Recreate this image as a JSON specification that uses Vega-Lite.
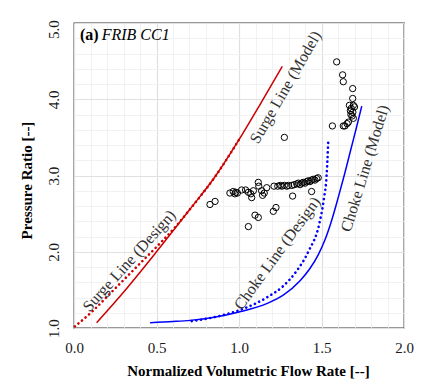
{
  "$schema": "https://vega.github.io/schema/vega-lite/v6.json",
  "width": 330,
  "height": 305,
  "autosize": {"type": "none"},
  "padding": {"left": 74, "top": 23, "right": 19, "bottom": 54},
  "background": "white",
  "config": {"view": {"stroke": "#333333", "strokeWidth": 1.3}, "font": "Liberation Serif"},
  "datasets": {
    "curves": [
      {"line": "Surge", "kind": "Model", "x": 0.137, "y": 1.07},
      {"line": "Surge", "kind": "Model", "x": 0.3, "y": 1.47},
      {"line": "Surge", "kind": "Model", "x": 0.5, "y": 2.0},
      {"line": "Surge", "kind": "Model", "x": 0.7, "y": 2.55},
      {"line": "Surge", "kind": "Model", "x": 0.86, "y": 3.0},
      {"line": "Surge", "kind": "Model", "x": 1.0, "y": 3.47},
      {"line": "Surge", "kind": "Model", "x": 1.13, "y": 3.94},
      {"line": "Surge", "kind": "Model", "x": 1.262, "y": 4.43},
      {"line": "Surge", "kind": "Design", "x": 0.005, "y": 1.02},
      {"line": "Surge", "kind": "Design", "x": 0.117, "y": 1.23},
      {"line": "Surge", "kind": "Design", "x": 0.218, "y": 1.45},
      {"line": "Surge", "kind": "Design", "x": 0.319, "y": 1.67},
      {"line": "Surge", "kind": "Design", "x": 0.42, "y": 1.89},
      {"line": "Surge", "kind": "Design", "x": 0.521, "y": 2.11},
      {"line": "Surge", "kind": "Design", "x": 0.62, "y": 2.34},
      {"line": "Surge", "kind": "Design", "x": 0.7, "y": 2.55},
      {"line": "Surge", "kind": "Design", "x": 0.86, "y": 3.0},
      {"line": "Surge", "kind": "Design", "x": 1.0, "y": 3.47},
      {"line": "Choke", "kind": "Model", "x": 0.461, "y": 1.07},
      {"line": "Choke", "kind": "Model", "x": 0.6, "y": 1.085},
      {"line": "Choke", "kind": "Model", "x": 0.703, "y": 1.1},
      {"line": "Choke", "kind": "Model", "x": 0.85, "y": 1.14},
      {"line": "Choke", "kind": "Model", "x": 1.0, "y": 1.21},
      {"line": "Choke", "kind": "Model", "x": 1.168, "y": 1.32},
      {"line": "Choke", "kind": "Model", "x": 1.268, "y": 1.43},
      {"line": "Choke", "kind": "Model", "x": 1.37, "y": 1.62},
      {"line": "Choke", "kind": "Model", "x": 1.43, "y": 1.78},
      {"line": "Choke", "kind": "Model", "x": 1.48, "y": 1.96},
      {"line": "Choke", "kind": "Model", "x": 1.52, "y": 2.15},
      {"line": "Choke", "kind": "Model", "x": 1.56, "y": 2.4},
      {"line": "Choke", "kind": "Model", "x": 1.6, "y": 2.7},
      {"line": "Choke", "kind": "Model", "x": 1.64, "y": 3.02},
      {"line": "Choke", "kind": "Model", "x": 1.68, "y": 3.36},
      {"line": "Choke", "kind": "Model", "x": 1.713, "y": 3.64},
      {"line": "Choke", "kind": "Model", "x": 1.744, "y": 3.91},
      {"line": "Choke", "kind": "Design", "x": 0.713, "y": 1.09},
      {"line": "Choke", "kind": "Design", "x": 0.905, "y": 1.17},
      {"line": "Choke", "kind": "Design", "x": 1.047, "y": 1.27},
      {"line": "Choke", "kind": "Design", "x": 1.168, "y": 1.4},
      {"line": "Choke", "kind": "Design", "x": 1.268, "y": 1.55},
      {"line": "Choke", "kind": "Design", "x": 1.35, "y": 1.75},
      {"line": "Choke", "kind": "Design", "x": 1.42, "y": 2.0},
      {"line": "Choke", "kind": "Design", "x": 1.49, "y": 2.4},
      {"line": "Choke", "kind": "Design", "x": 1.515, "y": 2.7},
      {"line": "Choke", "kind": "Design", "x": 1.531, "y": 3.0},
      {"line": "Choke", "kind": "Design", "x": 1.541, "y": 3.45}
    ],
    "tests": [
      {"x": 0.824, "y": 2.62}, {"x": 0.855, "y": 2.66}, {"x": 0.945, "y": 2.77}, {"x": 0.965, "y": 2.79},
      {"x": 0.975, "y": 2.76}, {"x": 0.98, "y": 2.78}, {"x": 0.99, "y": 2.77}, {"x": 1.016, "y": 2.81},
      {"x": 1.04, "y": 2.81}, {"x": 1.057, "y": 2.78}, {"x": 1.077, "y": 2.71}, {"x": 1.072, "y": 2.76},
      {"x": 1.087, "y": 2.8}, {"x": 1.117, "y": 2.91}, {"x": 1.12, "y": 2.86}, {"x": 1.137, "y": 2.8},
      {"x": 1.143, "y": 2.74}, {"x": 1.153, "y": 2.77}, {"x": 1.168, "y": 2.84}, {"x": 1.097, "y": 2.48},
      {"x": 1.117, "y": 2.45}, {"x": 1.057, "y": 2.33}, {"x": 1.208, "y": 2.53}, {"x": 1.224, "y": 2.58},
      {"x": 1.212, "y": 2.86}, {"x": 1.235, "y": 2.86}, {"x": 1.25, "y": 2.87}, {"x": 1.26, "y": 2.86},
      {"x": 1.275, "y": 2.87}, {"x": 1.29, "y": 2.86}, {"x": 1.3, "y": 2.87}, {"x": 1.325, "y": 2.73},
      {"x": 1.32, "y": 2.87}, {"x": 1.335, "y": 2.88}, {"x": 1.35, "y": 2.89}, {"x": 1.36, "y": 2.9},
      {"x": 1.37, "y": 2.88}, {"x": 1.38, "y": 2.9}, {"x": 1.39, "y": 2.91}, {"x": 1.4, "y": 2.9},
      {"x": 1.41, "y": 2.92}, {"x": 1.42, "y": 2.93}, {"x": 1.43, "y": 2.92}, {"x": 1.44, "y": 2.94},
      {"x": 1.45, "y": 2.95}, {"x": 1.46, "y": 2.94}, {"x": 1.47, "y": 2.96}, {"x": 1.48, "y": 2.97},
      {"x": 1.44, "y": 2.79}, {"x": 1.275, "y": 3.5},
      {"x": 1.592, "y": 4.49}, {"x": 1.628, "y": 4.32}, {"x": 1.632, "y": 4.23}, {"x": 1.689, "y": 4.14},
      {"x": 1.689, "y": 4.01}, {"x": 1.693, "y": 3.92}, {"x": 1.669, "y": 3.92}, {"x": 1.7, "y": 3.9},
      {"x": 1.68, "y": 3.88}, {"x": 1.675, "y": 3.85}, {"x": 1.69, "y": 3.83}, {"x": 1.678, "y": 3.8},
      {"x": 1.685, "y": 3.78}, {"x": 1.693, "y": 3.75}, {"x": 1.663, "y": 3.7}, {"x": 1.655, "y": 3.68},
      {"x": 1.642, "y": 3.65}, {"x": 1.632, "y": 3.65}, {"x": 1.566, "y": 3.65}
    ],
    "labels": [
      {"label": "Surge Line (Design)", "x": 0.335, "y": 1.88},
      {"label": "Surge Line (Model)", "x": 1.283, "y": 4.157},
      {"label": "Choke Line (Design)", "x": 1.232, "y": 1.98},
      {"label": "Choke Line (Model)", "x": 1.764, "y": 3.094}
    ],
    "panel": [
      {"part": "tag", "text": "(a)", "x": 0.036, "y": 4.78},
      {"part": "name", "text": "FRIB CC1", "x": 0.168, "y": 4.78}
    ]
  },
  "encoding": {
    "x": {
      "field": "x", "type": "quantitative",
      "scale": {"domain": [0, 2], "nice": false, "zero": false},
      "axis": {
        "title": "Normalized Volumetric Flow Rate [--]",
        "values": [0, 0.1, 0.2, 0.3, 0.4, 0.5, 0.6, 0.7, 0.8, 0.9, 1, 1.1, 1.2, 1.3, 1.4, 1.5, 1.6, 1.7, 1.8, 1.9, 2],
        "labelExpr": "abs(datum.value*2-round(datum.value*2))<0.001 ? format(datum.value,'.1f') : ''",
        "labelFont": "Liberation Serif", "labelFontSize": 15, "labelColor": "#1a1a1a",
        "labelPadding": 12, "labelFlush": false, "labelOverlap": false,
        "ticks": false, "domain": false, "grid": true,
        "gridColor": {"condition": {"test": "abs(datum.value*2-round(datum.value*2))<0.001", "value": "#e0e0e0"}, "value": "#efefef"},
        "gridWidth": {"condition": {"test": "abs(datum.value*2-round(datum.value*2))<0.001", "value": 1.2}, "value": 0.8},
        "titleFont": "Liberation Serif", "titleFontSize": 15, "titleFontWeight": "bold", "titleColor": "#000000",
        "titleX": 174, "titleY": 42, "titleBaseline": "middle"
      }
    },
    "y": {
      "field": "y", "type": "quantitative",
      "scale": {"domain": [1, 5], "nice": false, "zero": false},
      "axis": {
        "title": "Pressure Ratio [--]",
        "values": [1, 1.2, 1.4, 1.6, 1.8, 2, 2.2, 2.4, 2.6, 2.8, 3, 3.2, 3.4, 3.6, 3.8, 4, 4.2, 4.4, 4.6, 4.8, 5],
        "labelExpr": "abs(datum.value-round(datum.value))<0.001 ? format(datum.value,'.1f') : ''",
        "labelFont": "Liberation Serif", "labelFontSize": 15, "labelColor": "#1a1a1a",
        "labelAngle": -90, "labelAlign": "center", "labelBaseline": "middle",
        "labelPadding": 21, "labelFlush": false, "labelOverlap": false,
        "labelOffset": {"condition": {"test": "datum.value>4.99", "value": 6}, "value": 0},
        "ticks": false, "domain": false, "grid": true,
        "gridColor": {"condition": {"test": "abs(datum.value-round(datum.value))<0.001", "value": "#e0e0e0"}, "value": "#efefef"},
        "gridWidth": {"condition": {"test": "abs(datum.value-round(datum.value))<0.001", "value": 1.2}, "value": 0.8},
        "titleFont": "Liberation Serif", "titleFontSize": 15, "titleFontWeight": "bold", "titleColor": "#000000",
        "titleX": -48, "titleY": 157, "titleBaseline": "middle", "titleAngle": -90
      }
    }
  },
  "layer": [
    {
      "data": {"name": "curves"},
      "transform": [{"filter": "datum.kind === 'Design'"}],
      "mark": {"type": "line", "interpolate": "monotone", "strokeWidth": 2.6, "strokeDash": [0.1, 4.6], "strokeCap": "round"},
      "encoding": {
        "color": {"field": "line", "type": "nominal", "scale": {"domain": ["Surge", "Choke"], "range": ["#CD0000", "#0000FF"]}, "legend": null},
        "detail": {"field": "line"}
      }
    },
    {
      "data": {"name": "curves"},
      "transform": [{"filter": "datum.kind === 'Model'"}],
      "mark": {"type": "line", "interpolate": "monotone", "strokeWidth": 1.5},
      "encoding": {
        "color": {"field": "line", "type": "nominal", "scale": {"domain": ["Surge", "Choke"], "range": ["#CD0000", "#0000FF"]}, "legend": null},
        "detail": {"field": "line"}
      }
    },
    {
      "data": {"name": "tests"},
      "mark": {"type": "point", "shape": "circle", "filled": false, "stroke": "#000000", "strokeWidth": 1, "size": 40, "opacity": 1}
    },
    {
      "data": {"name": "labels"},
      "transform": [{"filter": "datum.label === 'Surge Line (Design)'"}],
      "mark": {"type": "text", "angle": -48, "font": "Liberation Serif", "fontSize": 16, "color": "#333333", "align": "center", "baseline": "middle"},
      "encoding": {"text": {"field": "label"}}
    },
    {
      "data": {"name": "labels"},
      "transform": [{"filter": "datum.label === 'Surge Line (Model)'"}],
      "mark": {"type": "text", "angle": -60, "font": "Liberation Serif", "fontSize": 16, "color": "#333333", "align": "center", "baseline": "middle"},
      "encoding": {"text": {"field": "label"}}
    },
    {
      "data": {"name": "labels"},
      "transform": [{"filter": "datum.label === 'Choke Line (Design)'"}],
      "mark": {"type": "text", "angle": -54, "font": "Liberation Serif", "fontSize": 16, "color": "#333333", "align": "center", "baseline": "middle"},
      "encoding": {"text": {"field": "label"}}
    },
    {
      "data": {"name": "labels"},
      "transform": [{"filter": "datum.label === 'Choke Line (Model)'"}],
      "mark": {"type": "text", "angle": -73, "font": "Liberation Serif", "fontSize": 16, "color": "#333333", "align": "center", "baseline": "middle"},
      "encoding": {"text": {"field": "label"}}
    },
    {
      "data": {"name": "panel"},
      "transform": [{"filter": "datum.part === 'tag'"}],
      "mark": {"type": "text", "font": "Liberation Serif", "fontSize": 16, "fontWeight": "bold", "color": "#000000", "align": "left", "baseline": "alphabetic"},
      "encoding": {"text": {"field": "text"}}
    },
    {
      "data": {"name": "panel"},
      "transform": [{"filter": "datum.part === 'name'"}],
      "mark": {"type": "text", "font": "Liberation Serif", "fontSize": 16, "fontStyle": "italic", "color": "#000000", "align": "left", "baseline": "alphabetic"},
      "encoding": {"text": {"field": "text"}}
    }
  ]
}
